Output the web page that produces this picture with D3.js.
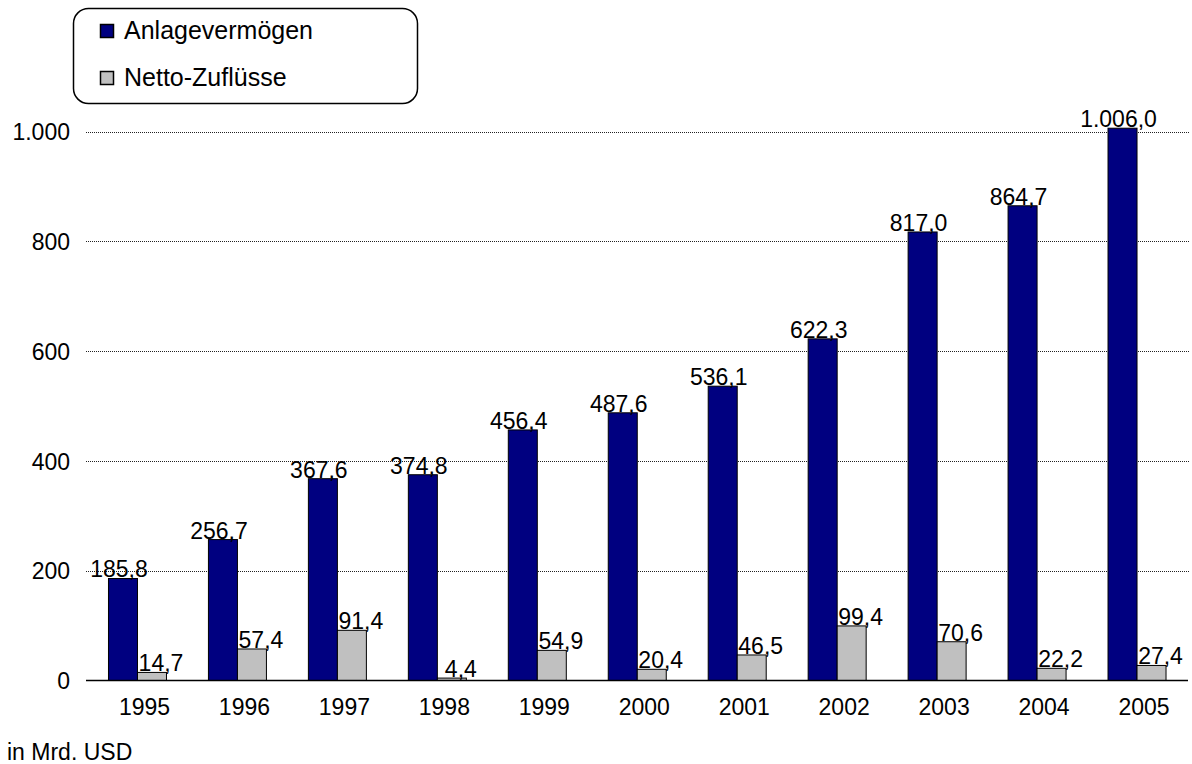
<!DOCTYPE html>
<html>
<head>
<meta charset="utf-8">
<script src="https://cdn.jsdelivr.net/npm/d3@7/dist/d3.min.js"></script>
<style>
  html, body { margin: 0; padding: 0; background: #ffffff; }
  svg { display: block; font-family: "Liberation Sans", Arial, Helvetica, sans-serif; }
</style>
</head>
<body>
<svg id="chart" width="1192" height="764"></svg>
<script>
const years = ["1995","1996","1997","1998","1999","2000","2001","2002","2003","2004","2005"];
const anlagevermoegen = [185.8, 256.7, 367.6, 374.8, 456.4, 487.6, 536.1, 622.3, 817.0, 864.7, 1006.0];
const nettoZufluesse = [14.7, 57.4, 91.4, 4.4, 54.9, 20.4, 46.5, 99.4, 70.6, 22.2, 27.4];
const seriesNames = ["Anlagevermögen", "Netto-Zuflüsse"];
const seriesColors = ["#000080", "#C0C0C0"];
const yTicks = [0, 200, 400, 600, 800, 1000];
const unitLabel = "in Mrd. USD";

const svg = d3.select("#chart");
const fmt = v => {
  const s = v.toFixed(1).split(".");
  const intPart = s[0].replace(/\B(?=(\d{3})+(?!\d))/g, ".");
  return intPart + "," + s[1];
};
const fmtTick = v => String(v).replace(/\B(?=(\d{3})+(?!\d))/g, ".");

const x = d3.scaleBand().domain(years).range([87.5, 1187]).padding(0);
const y = d3.scaleLinear().domain([0, 1000]).range([680.5, 131.5]);
const barW = 29;

// gridlines
svg.append("g").selectAll("line.grid")
  .data(yTicks.filter(t => t > 0))
  .join("line")
  .attr("x1", 86).attr("x2", 1189)
  .attr("y1", d => Math.round(y(d)) + 0.5).attr("y2", d => Math.round(y(d)) + 0.5)
  .attr("stroke", "#222").attr("stroke-width", 1).attr("stroke-dasharray", "1,1");

// y axis labels
const yAxis = d3.axisLeft(y).tickValues(yTicks).tickFormat(fmtTick).tickSize(0).tickPadding(0);
const yg = svg.append("g").attr("transform", "translate(70,0)").call(yAxis);
yg.select(".domain").remove();
yg.selectAll("text").attr("font-size", 23).attr("fill", "#000")
  .attr("font-family", "'Liberation Sans', Arial, sans-serif").attr("dy", "0.36em");

// x axis labels
const xAxis = d3.axisBottom(x).tickSize(0).tickPadding(0);
const xg = svg.append("g").attr("transform", "translate(7,699)").call(xAxis);
xg.select(".domain").remove();
xg.selectAll("text").attr("font-size", 23).attr("fill", "#000")
  .attr("font-family", "'Liberation Sans', Arial, sans-serif");

// bars
const data = years.map((yr, i) => ({ yr, a: anlagevermoegen[i], n: nettoZufluesse[i] }));
const groups = svg.append("g").selectAll("g.year").data(data).join("g");
groups.append("rect")
  .attr("x", d => x(d.yr) + x.bandwidth() / 2 - barW)
  .attr("y", d => y(d.a))
  .attr("width", barW)
  .attr("height", d => y(0) - y(d.a))
  .attr("fill", seriesColors[0]).attr("stroke", "#000").attr("stroke-width", 1);
groups.append("rect")
  .attr("x", d => x(d.yr) + x.bandwidth() / 2)
  .attr("y", d => y(d.n))
  .attr("width", barW)
  .attr("height", d => y(0) - y(d.n))
  .attr("fill", seriesColors[1]).attr("stroke", "#000").attr("stroke-width", 1);

// baseline
svg.append("line").attr("x1", 86).attr("x2", 1188)
  .attr("y1", y(0)).attr("y2", y(0)).attr("stroke", "#000").attr("stroke-width", 1.5);

// value labels
groups.append("text")
  .attr("x", d => x(d.yr) + x.bandwidth() / 2 - barW / 2 - 4)
  .attr("y", d => y(d.a) - 1)
  .attr("text-anchor", "middle").attr("font-size", 23).attr("fill", "#000")
  .text(d => fmt(d.a));
groups.append("text")
  .attr("x", d => x(d.yr) + x.bandwidth() / 2 + barW / 2 + 9)
  .attr("y", d => y(d.n) - 1)
  .attr("text-anchor", "middle").attr("font-size", 23).attr("fill", "#000")
  .text(d => fmt(d.n));

// legend
const lg = svg.append("g");
lg.append("rect").attr("x", 73.5).attr("y", 8.5).attr("width", 344).attr("height", 95)
  .attr("rx", 15).attr("ry", 15).attr("fill", "#fff").attr("stroke", "#000").attr("stroke-width", 1.5);
const items = lg.selectAll("g.item").data(seriesNames).join("g")
  .attr("transform", (d, i) => `translate(0,${i * 47})`);
items.append("rect").attr("x", 100.5).attr("y", 24.5).attr("width", 13).attr("height", 13)
  .attr("fill", (d, i) => seriesColors[i]).attr("stroke", "#000").attr("stroke-width", 1.5);
items.append("text").attr("x", 124).attr("y", 38.5).attr("font-size", 25).attr("fill", "#000")
  .text(d => d);

// unit label
svg.append("text").attr("x", 7).attr("y", 760).attr("font-size", 23).attr("fill", "#000").text(unitLabel);
</script>
</body>
</html>
